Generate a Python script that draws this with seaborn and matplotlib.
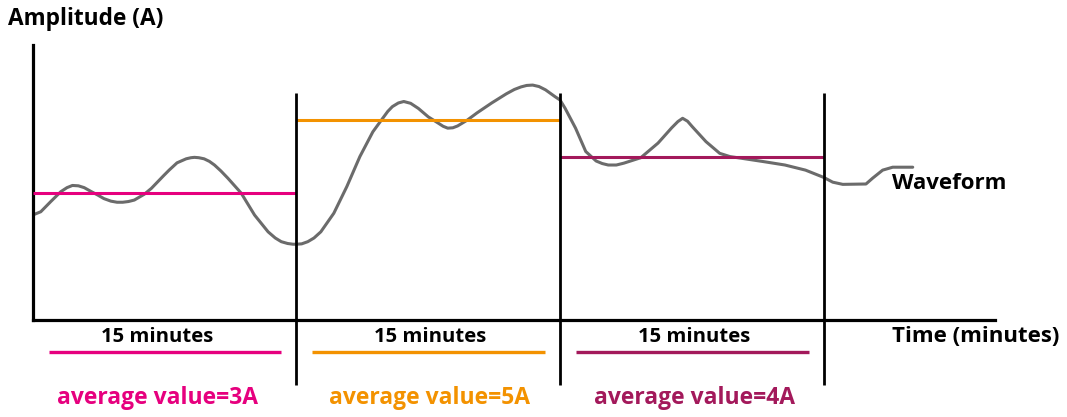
import matplotlib
matplotlib.use("Agg")
import matplotlib.pyplot as plt
import seaborn as sns
import pandas as pd

# ---------------- data ----------------
# waveform: time (minutes) and amplitude (A)
wave_t = [0.00, 0.46, 1.03, 1.60, 1.95, 2.26, 2.60, 2.93, 3.30, 3.69, 4.05, 4.45, 4.80, 5.12,
          5.45, 5.78, 6.35, 6.75, 7.11, 7.45, 7.76, 8.21, 8.73, 9.00, 9.20, 9.45, 9.75, 10.05,
          10.34, 10.70, 11.10, 11.86, 12.62, 13.39, 13.80, 14.14, 14.50, 14.81, 15.00, 15.30,
          15.65, 16.00, 16.39, 17.13, 17.87, 18.61, 19.35, 19.91, 20.20, 20.46, 20.80, 21.11,
          21.50, 21.94, 22.50, 23.06, 23.35, 23.61, 23.90, 24.17, 24.72, 25.28, 26.11, 26.94,
          27.40, 27.78, 28.10, 28.44, 28.80, 29.17, 29.72, 30.00, 30.29, 30.88, 31.46, 32.05,
          32.40, 32.74, 33.20, 33.62, 34.59, 35.57, 36.35, 36.70, 36.97, 37.25, 37.52, 38.30,
          39.08, 39.67, 40.25, 41.62, 42.79, 43.96, 45.00, 45.51, 46.08, 47.40, 47.78, 48.35,
          48.92, 50.06]
wave_a = [2.41, 2.50, 2.78, 3.05, 3.16, 3.22, 3.21, 3.16, 3.06, 2.96, 2.86, 2.79, 2.76, 2.76,
          2.78, 2.82, 2.98, 3.14, 3.32, 3.49, 3.64, 3.84, 3.95, 3.98, 3.99, 3.98, 3.95, 3.88,
          3.78, 3.62, 3.42, 3.01, 2.41, 1.95, 1.78, 1.68, 1.63, 1.61, 1.61, 1.62, 1.68, 1.78,
          1.95, 2.46, 3.19, 4.01, 4.69, 5.06, 5.25, 5.38, 5.48, 5.52, 5.47, 5.33, 5.10, 4.93,
          4.84, 4.79, 4.80, 4.85, 5.01, 5.21, 5.48, 5.73, 5.85, 5.92, 5.96, 5.97, 5.93, 5.84,
          5.65, 5.56, 5.33, 4.79, 4.15, 3.89, 3.82, 3.78, 3.78, 3.83, 3.98, 4.38, 4.80, 4.97,
          5.06, 4.98, 4.83, 4.42, 4.10, 4.01, 3.97, 3.87, 3.78, 3.64, 3.44, 3.31, 3.25, 3.26,
          3.42, 3.64, 3.72, 3.72]

seg_start = [0, 15, 30]
seg_end = [15, 30, 45]
seg_avg = [3, 5, 4]
seg_label = ["15 minutes", "15 minutes", "15 minutes"]
avg_label = ["average value=3A", "average value=5A", "average value=4A"]
seg_colors = ["#E6007E", "#F39200", "#A3195B"]

y_title = "Amplitude (A)"
x_title = "Time (minutes)"
wave_label = "Waveform"

# layout tweaks (horizontal nudges of the labels under each segment)
label_shift = [-0.4, 0.1, 0.15]

# ---------------- style ----------------
sns.set_style("white")
plt.rcParams["font.family"] = ["Open Sans", "DejaVu Sans"]

W, H = 1067, 417
fig = plt.figure(figsize=(W / 100, H / 100), dpi=100)
ax = fig.add_axes([32.7 / W, (H - 320) / H, (995 - 32.7) / W, 275 / H])
ax.set_xlim(0, 54.74)
ax.set_ylim(-0.466, 7.068)

for s in ["top", "right"]:
    ax.spines[s].set_visible(False)
for s in ["left", "bottom"]:
    ax.spines[s].set_linewidth(2.3)
    ax.spines[s].set_color("black")
ax.set_xticks([])
ax.set_yticks([])
ax.set_xlabel("")
ax.set_ylabel("")

# waveform
df = pd.DataFrame({"t": wave_t, "a": wave_a})
sns.lineplot(data=df, x="t", y="a", sort=False, estimator=None, ax=ax,
             color="#6B6B6B", linewidth=2.2, zorder=2,
             solid_joinstyle="round", solid_capstyle="round")

# average lines per segment
for s0, s1, v, c in zip(seg_start, seg_end, seg_avg, seg_colors):
    ax.hlines(v, s0, s1, colors=c, linewidth=2.2, zorder=3)

# vertical dividers
ax.vlines(seg_end, -2.25, 5.75, colors="black", linewidth=2.0, clip_on=False, zorder=4)

# labels below axis
for s0, s1, lab, alab, c, dx in zip(seg_start, seg_end, seg_label, avg_label,
                                     seg_colors, label_shift):
    mid = (s0 + s1) / 2 + dx
    ax.text(mid, -0.93, lab, ha="center", va="center", fontsize=14.6,
            fontweight="bold", color="black", clip_on=False)
    ax.hlines(-1.34, s0 + 0.9, s1 - 0.85, colors=c, linewidth=2.4, clip_on=False)
    ax.text(mid, -2.60, alab, ha="center", va="center", fontsize=16.5,
            fontweight="bold", color=c, clip_on=False)

ax.text(48.88, -0.93, x_title, ha="left", va="center", fontsize=16,
        fontweight="bold", color="black", clip_on=False)
ax.text(48.88, 3.26, wave_label, ha="left", va="center", fontsize=16,
        fontweight="bold", color="black", clip_on=False)
fig.text(8 / W, 1 - 19 / H, y_title, ha="left", va="center", fontsize=16.3,
         fontweight="bold", color="black")

fig.savefig("out.png", dpi=100)
